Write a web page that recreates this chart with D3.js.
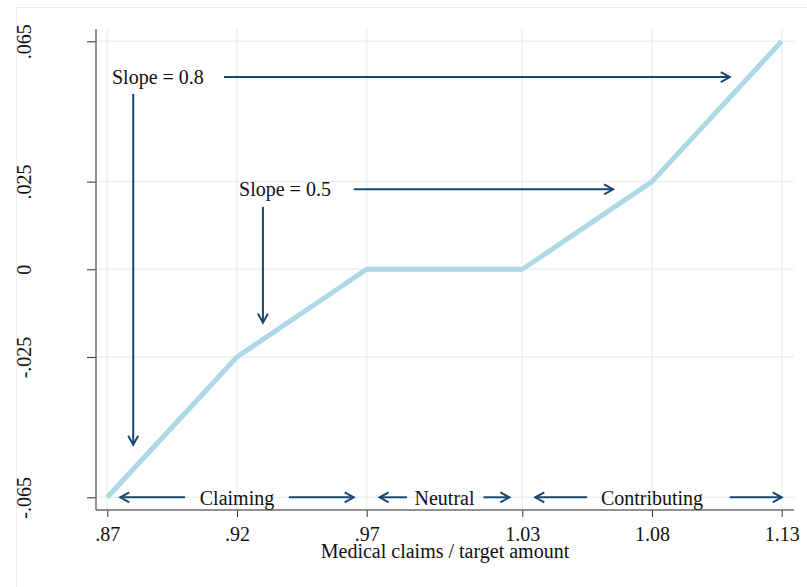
<!DOCTYPE html>
<html>
<head>
<meta charset="utf-8">
<script src="https://cdn.jsdelivr.net/npm/d3@7"></script>
<style>
  body { margin: 0; background: #fff; }
  text { font-family: "Liberation Serif", "Times New Roman", serif; font-size: 20px; fill: #111; }
</style>
</head>
<body>
<div id="chart"></div>
<script>
// kink points of the payment schedule
const ratio = [0.87, 0.92, 0.97, 1.03, 1.08, 1.13];
const payment = [-0.065, -0.025, 0, 0, 0.025, 0.065];

const xTicks = [0.87, 0.92, 0.97, 1.03, 1.08, 1.13];
const xTickLabels = ['.87', '.92', '.97', '1.03', '1.08', '1.13'];
const yTicks = [0.065, 0.025, 0, -0.025, -0.065];
const yTickLabels = ['.065', '.025', '0', '-.025', '-.065'];

// annotation arrows [x1, y1, x2, y2] in data units
const arrows = [
    [0.915, 0.0548, 1.11, 0.0548],
    [0.88, 0.05, 0.88, -0.05],
    [0.965, 0.0228, 1.065, 0.0228],
    [0.93, 0.0178, 0.93, -0.0152],
    [0.90, -0.065, 0.875, -0.065],
    [0.94, -0.065, 0.965, -0.065],
    [0.9855, -0.065, 0.975, -0.065],
    [1.015, -0.065, 1.025, -0.065],
    [1.055, -0.065, 1.035, -0.065],
    [1.11, -0.065, 1.13, -0.065]
];
const slopeLabels = ['Slope = 0.8', 'Slope = 0.5'];
const slopeX = [0.8718, 0.9208];
const slopeY = [0.0548, 0.0228];
const zoneLabels = ['Claiming', 'Neutral', 'Contributing'];
const zoneX = [0.92, 1.0, 1.08];

const W = 807, H = 587;
const plot = { left: 96, right: 794, top: 29, bottom: 510 };

const svg = d3.select('#chart').append('svg')
    .attr('width', W)
    .attr('height', H);

// faint outer frame
svg.append('rect')
    .attr('x', 16.5).attr('y', 7.5)
    .attr('width', W).attr('height', H)
    .attr('fill', 'none')
    .attr('stroke', '#ececec')
    .attr('stroke-width', 1);

const x = d3.scaleLinear().domain([0.87, 1.13]).range([107.3, 781.7]);
const y = d3.scaleLinear().domain([-0.065, 0.065]).range([497.3, 41.3]);

// grid
svg.append('g').selectAll('line.hg')
    .data(yTicks).join('line')
    .attr('x1', plot.left).attr('x2', plot.right)
    .attr('y1', d => y(d)).attr('y2', d => y(d))
    .attr('stroke', '#e9f1f3').attr('stroke-width', 1.5);
svg.append('g').selectAll('line.vg')
    .data(xTicks).join('line')
    .attr('x1', d => x(d)).attr('x2', d => x(d))
    .attr('y1', plot.top).attr('y2', plot.bottom)
    .attr('stroke', '#e9f1f3').attr('stroke-width', 1.5);

// axes
const xAxis = svg.append('g')
    .attr('transform', `translate(0,${plot.bottom})`)
    .call(d3.axisBottom(x).tickValues(xTicks)
        .tickFormat((d, i) => xTickLabels[i]).tickSize(7).tickSizeOuter(0));
xAxis.select('.domain').remove();
xAxis.selectAll('.tick line').attr('stroke', '#333');
xAxis.selectAll('.tick text').attr('y', 31).attr('dy', 0)
    .style('font-size', '20px').style('font-family', '"Liberation Serif", serif').attr('fill', '#111');

const yAxis = svg.append('g')
    .attr('transform', `translate(${plot.left},0)`)
    .call(d3.axisLeft(y).tickValues(yTicks)
        .tickFormat((d, i) => yTickLabels[i]).tickSize(9).tickSizeOuter(0));
yAxis.select('.domain').remove();
yAxis.selectAll('.tick line').attr('stroke', '#333');
yAxis.selectAll('.tick text')
    .attr('transform', 'rotate(-90)')
    .attr('x', 0).attr('y', -65).attr('dy', 0)
    .attr('text-anchor', 'middle')
    .style('font-size', '20px').style('font-family', '"Liberation Serif", serif').attr('fill', '#111');

svg.append('line')
    .attr('x1', plot.left).attr('x2', plot.left)
    .attr('y1', plot.top).attr('y2', plot.bottom)
    .attr('stroke', '#6e6e6e').attr('stroke-width', 1.5);
svg.append('line')
    .attr('x1', plot.left).attr('x2', plot.right)
    .attr('y1', plot.bottom).attr('y2', plot.bottom)
    .attr('stroke', '#6e6e6e').attr('stroke-width', 1.5);

svg.append('text')
    .attr('x', (plot.left + plot.right) / 2)
    .attr('y', 558)
    .attr('text-anchor', 'middle')
    .text('Medical claims / target amount');

// the schedule line
const line = d3.line().x(d => x(d[0])).y(d => y(d[1]));
svg.append('path')
    .datum(ratio.map((r, i) => [r, payment[i]]))
    .attr('d', line)
    .attr('fill', 'none')
    .attr('stroke', '#add8e6')
    .attr('stroke-width', 5)
    .attr('stroke-linejoin', 'round');

// arrows
const navy = '#1a476f';
const ag = svg.append('g').attr('stroke', navy).attr('fill', 'none').attr('stroke-width', 2);
arrows.forEach(a => {
    const x1 = x(a[0]), y1 = y(a[1]), x2 = x(a[2]), y2 = y(a[3]);
    ag.append('line').attr('x1', x1).attr('y1', y1).attr('x2', x2).attr('y2', y2);
    const ang = Math.atan2(y2 - y1, x2 - x1);
    const len = 9, hw = 5;
    const bx = x2 - len * Math.cos(ang), by = y2 - len * Math.sin(ang);
    const px = -Math.sin(ang) * hw, py = Math.cos(ang) * hw;
    ag.append('path')
        .attr('d', `M${bx + px},${by + py}L${x2},${y2}L${bx - px},${by - py}`)
        .attr('stroke-linejoin', 'miter');
});

// labels
slopeLabels.forEach((t, i) => {
    svg.append('text')
        .attr('x', x(slopeX[i]))
        .attr('y', y(slopeY[i]) + 6.5)
        .text(t);
});
zoneLabels.forEach((t, i) => {
    svg.append('text')
        .attr('x', x(zoneX[i]))
        .attr('y', y(-0.065) + 7.5)
        .attr('text-anchor', 'middle')
        .text(t);
});
</script>
</body>
</html>
